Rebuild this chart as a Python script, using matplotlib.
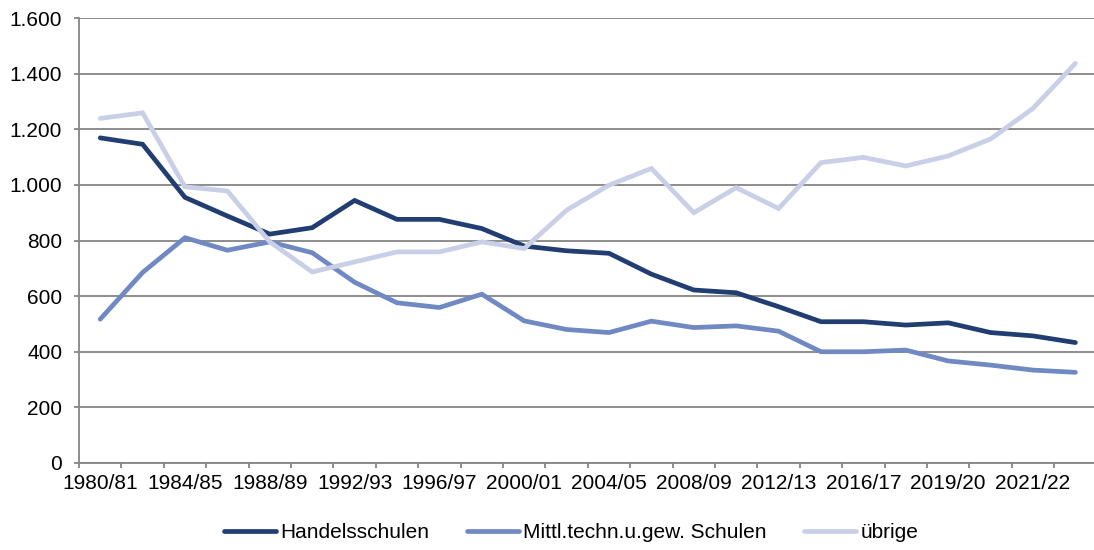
import matplotlib
matplotlib.use("Agg")
import matplotlib.pyplot as plt
from matplotlib.ticker import FixedLocator, FuncFormatter

plt.rcParams['font.family'] = ['Liberation Sans', 'DejaVu Sans']

categories = ["1980/81", "1982/83", "1984/85", "1986/87", "1988/89", "1990/91",
              "1992/93", "1994/95", "1996/97", "1998/99", "2000/01", "2002/03",
              "2004/05", "2006/07", "2008/09", "2010/11", "2012/13", "2014/15",
              "2016/17", "2018/19", "2019/20", "2020/21", "2021/22", "2022/23"]

handelsschulen = [1169, 1146, 955, 888, 823, 846, 944, 876, 876, 843, 780, 763,
                  754, 679, 622, 612, 562, 508, 508, 496, 504, 469, 457, 433]
mittl_techn = [517, 685, 810, 765, 795, 756, 650, 576, 559, 607, 511, 480,
               469, 510, 487, 493, 474, 400, 400, 406, 367, 352, 334, 326]
uebrige = [1239, 1259, 993, 978, 795, 687, 723, 759, 759, 795, 771, 909,
           999, 1059, 900, 990, 915, 1080, 1099, 1068, 1104, 1165, 1275, 1437]

series_names = ["Handelsschulen", "Mittl.techn.u.gew. Schulen", "übrige"]
colors = ["#213D72", "#7089C3", "#C9CFE7"]
yticks = [0, 200, 400, 600, 800, 1000, 1200, 1400, 1600]

W, H = 1094, 550
fig = plt.figure(figsize=(W / 100, H / 100), dpi=100)
left_px, right_px, top_px, bot_px = 79, 1094, 18, 463
ax = fig.add_axes([left_px / W, 1 - bot_px / H, (right_px - left_px) / W, (bot_px - top_px) / H])

x = list(range(len(categories)))
for vals, name, c in zip([handelsschulen, mittl_techn, uebrige], series_names, colors):
    ax.plot(x, vals, color=c, lw=3.4, label=name, solid_capstyle='round',
            solid_joinstyle='miter', zorder=3)

cat_w = (right_px - left_px) / 42.4
ax.set_xlim(-0.5, -0.5 + cat_w)
ax.set_ylim(0, 1600)

grey = "#858585"
ax.set_yticks(yticks)
ax.yaxis.set_major_formatter(FuncFormatter(lambda v, p: f"{int(v):,}".replace(",", ".")))
ax.grid(axis='y', color=grey, lw=1.3, zorder=1)
ax.set_axisbelow(True)

ax.xaxis.set_major_locator(FixedLocator(x[::2]))
ax.set_xticklabels(categories[::2])
ax.xaxis.set_minor_locator(FixedLocator([i - 0.5 for i in range(len(categories) + 1)]))

fs = 15
ax.tick_params(axis='x', which='major', length=0, pad=8, labelsize=fs, labelcolor='black')
ax.tick_params(axis='x', which='minor', length=3.6, width=1.3, color=grey)
ax.tick_params(axis='y', which='major', length=3.6, width=1.3, color=grey, pad=8.5,
               labelsize=fs, labelcolor='black')

for s in ['top', 'right']:
    ax.spines[s].set_visible(False)
for s in ['left', 'bottom']:
    ax.spines[s].set_color(grey)
    ax.spines[s].set_linewidth(1.3)

fig.legend(loc='center', bbox_to_anchor=(571 / W, 1 - 533 / H), ncol=3, frameon=False,
           fontsize=fs, handlelength=2.5, handletextpad=0.2, columnspacing=1.8,
           borderpad=0, borderaxespad=0)

fig.savefig("out.png", dpi=100)
